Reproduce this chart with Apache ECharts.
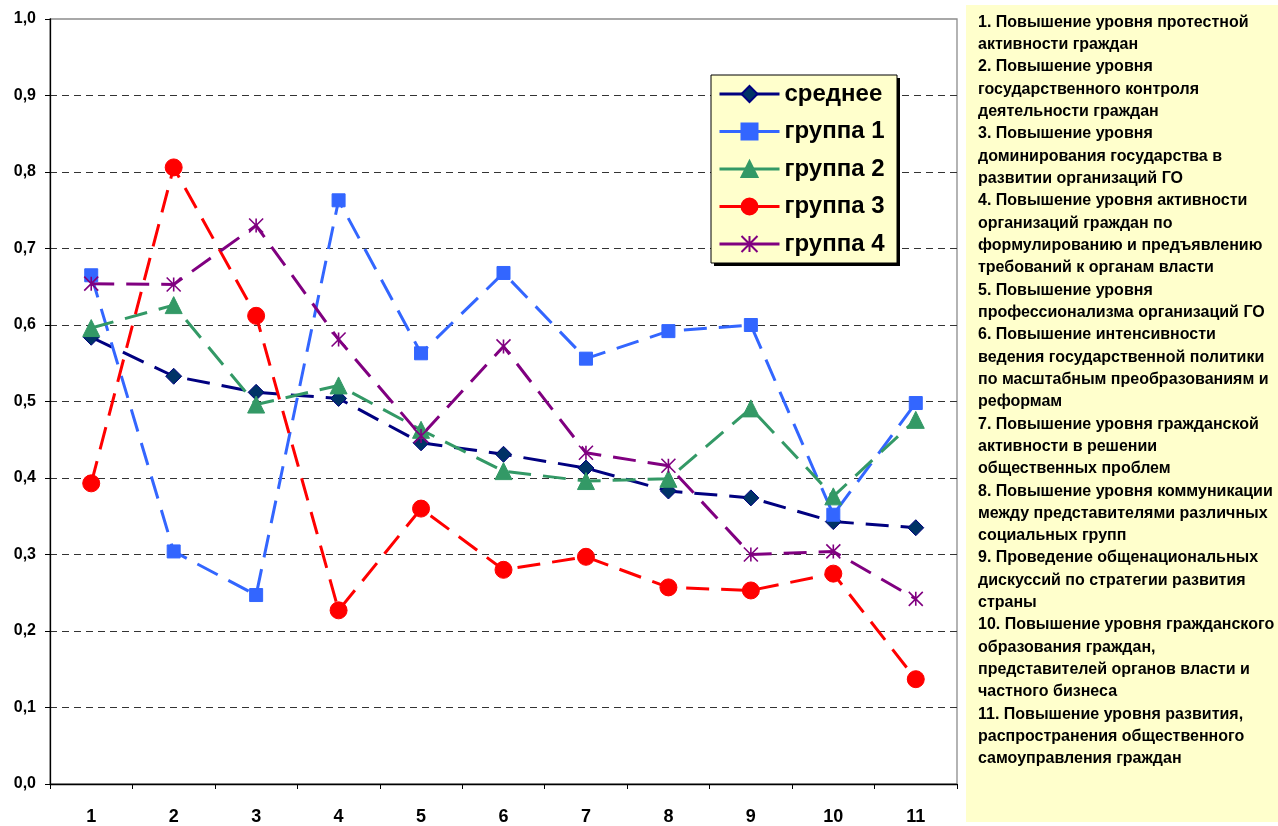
<!DOCTYPE html>
<html>
<head>
<meta charset="utf-8">
<script src="https://cdn.jsdelivr.net/npm/echarts@6/dist/echarts.min.js"></script>
<style>
html,body{margin:0;padding:0;background:#fff;}
#main{width:1278px;height:826px;}
</style>
</head>
<body>
<div id="main"></div>
<script>
var categories = ['1','2','3','4','5','6','7','8','9','10','11'];
var seriesNames = ['среднее','группа 1','группа 2','группа 3','группа 4'];
var mean   = [0.584,0.533,0.512,0.504,0.446,0.431,0.413,0.383,0.374,0.343,0.335];
var group1 = [0.665,0.304,0.247,0.763,0.563,0.668,0.556,0.592,0.600,0.352,0.498];
var group2 = [0.596,0.626,0.496,0.521,0.463,0.409,0.396,0.399,0.491,0.376,0.476];
var group3 = [0.393,0.806,0.612,0.227,0.360,0.280,0.297,0.257,0.253,0.275,0.137];
var group4 = [0.654,0.653,0.730,0.581,0.455,0.572,0.433,0.416,0.300,0.304,0.242];
var notes = [
'1. Повышение уровня протестной',
'активности граждан',
'2. Повышение уровня',
'государственного контроля',
'деятельности граждан',
'3. Повышение уровня',
'доминирования государства в',
'развитии организаций ГО',
'4. Повышение уровня активности',
'организаций граждан по',
'формулированию и предъявлению',
'требований к органам власти',
'5. Повышение уровня',
'профессионализма организаций ГО',
'6. Повышение интенсивности',
'ведения государственной политики',
'по масштабным преобразованиям и',
'реформам',
'7. Повышение уровня гражданской',
'активности в решении',
'общественных проблем',
'8. Повышение уровня коммуникации',
'между представителями различных',
'социальных групп',
'9. Проведение общенациональных',
'дискуссий по стратегии развития',
'страны',
'10. Повышение уровня гражданского',
'образования граждан,',
'представителей органов власти и',
'частного бизнеса',
'11. Повышение уровня развития,',
'распространения общественного',
'самоуправления граждан'
];

var FONT = 'Arial, "Liberation Sans", sans-serif';
var DASH = [23, 12];
var starPath = 'path://M0,0L10,10M10,0L0,10M5,0L5,10';

function mk(name, data, lineColor, symbol, size, fill, border) {
  return {
    name: name, type: 'line', data: data,
    symbol: symbol, symbolSize: size,
    lineStyle: {color: lineColor, width: 3, type: DASH},
    itemStyle: {color: fill, borderColor: border, borderWidth: symbol === starPath ? 1.6 : 1},
    emphasis: {disabled: true},
    z: 3
  };
}

var chart = echarts.init(document.getElementById('main'), null, {renderer: 'canvas'});
chart.setOption({
  animation: false,
  backgroundColor: '#ffffff',
  textStyle: {fontFamily: FONT},
  grid: {left: 50, right: 321, top: 19, bottom: 41, show: true, borderColor: '#8c8c8c', borderWidth: 1.3, backgroundColor: 'transparent'},
  xAxis: {
    type: 'category', data: categories, boundaryGap: true,
    axisLine: {lineStyle: {color: '#000', width: 1.3}},
    axisTick: {show: true, length: 5, lineStyle: {color: '#000', width: 1}},
    axisLabel: {fontSize: 18, fontWeight: 'bold', color: '#000', margin: 24, fontFamily: FONT},
    splitLine: {show: false}
  },
  yAxis: {
    type: 'value', min: 0, max: 1, interval: 0.1,
    axisLine: {show: true, lineStyle: {color: '#000', width: 1.3}},
    axisTick: {show: true, length: 5, lineStyle: {color: '#000', width: 1}},
    axisLabel: {fontSize: 16, fontWeight: 'bold', color: '#000', margin: 14, fontFamily: FONT,
      formatter: function (v) { return v.toFixed(1).replace('.', ','); }},
    splitLine: {show: true, showMinLine: false, showMaxLine: false, lineStyle: {color: '#333', width: 1, type: [7, 5]}}
  },
  legend: {
    orient: 'vertical', left: 711, top: 75, z: 7,
    data: seriesNames,
    backgroundColor: 'transparent', borderWidth: 0,
    padding: [5, 9, 5, 7],
    itemWidth: 60, itemHeight: 20, itemGap: 9.5,
    lineStyle: {type: 'solid', width: 3},
    textStyle: {fontSize: 24, fontWeight: 'bold', color: '#000', lineHeight: 28, fontFamily: FONT}
  },
  graphic: [
    {type: 'rect', left: 966, top: 5, shape: {width: 312, height: 817}, style: {fill: '#FFFFCC'}, z: 0},
    {type: 'text', left: 978, top: 11, z: 1,
      style: {text: notes.join('\n'), font: 'bold 16px ' + FONT, fill: '#000', lineHeight: 22.33}},
    {type: 'rect', x: 714, y: 78, shape: {width: 186, height: 188}, style: {fill: '#000'}, z: 5},
    {type: 'rect', x: 711, y: 75, shape: {width: 186, height: 188}, style: {fill: '#FFFFCC', stroke: '#000', lineWidth: 1}, z: 6}
  ],
  series: [
    mk(seriesNames[0], mean, '#000080', 'diamond', 16, '#003366', '#000080'),
    mk(seriesNames[1], group1, '#3366FF', 'rect', 13, '#3366FF', '#3366FF'),
    mk(seriesNames[2], group2, '#339966', 'triangle', 17, '#339966', '#339966'),
    mk(seriesNames[3], group3, '#FF0000', 'circle', 17, '#FF0000', '#FF0000'),
    mk(seriesNames[4], group4, '#800080', starPath, 14, '#800080', '#800080')
  ]
});
</script>
</body>
</html>
